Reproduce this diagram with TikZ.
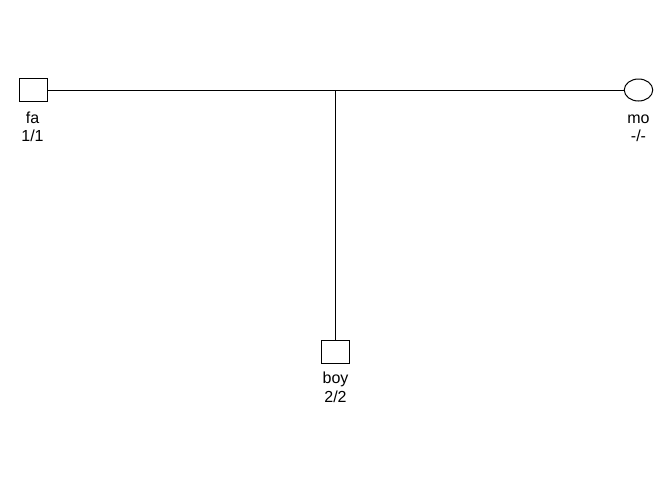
\documentclass[tikz,border=0pt]{standalone}
\usepackage{fontspec}
\setmainfont{Liberation Sans}
\usetikzlibrary{shapes.geometric}
\begin{document}
\begin{tikzpicture}[x=1pt,y=-1pt,
  male/.style={draw,line width=1pt,rectangle,minimum width=28pt,minimum height=23pt,inner sep=0pt},
  female/.style={draw,line width=1pt,ellipse,minimum width=28.5pt,minimum height=22pt,inner sep=0pt},
  lbl/.style={anchor=base,inner sep=0pt,font=\fontsize{16}{19}\selectfont},
  rel/.style={line width=1pt}]
\useasboundingbox (0,0) rectangle (672,480);
\node[male] (fa) at (33.3,90) {};
\node[female] (mo) at (638.5,90) {};
\node[male] (boy) at (335.5,351.7) {};
\coordinate (mid) at (335.5,90);
\draw[rel] (fa.east) -- (mo.west);
\draw[rel] (mid) -- (boy.north);
\node[lbl] (fal1) at (32.5,123) {fa};
\node[lbl] (fal2) at (32.5,141.8) {1/1};
\node[lbl] (mol1) at (638.5,123) {mo};
\node[lbl] (mol2) at (638.5,141.8) {-/-};
\node[lbl] (boyl1) at (335.5,383.5) {boy};
\node[lbl] (boyl2) at (335.5,402.5) {2/2};
\end{tikzpicture}
\end{document}
